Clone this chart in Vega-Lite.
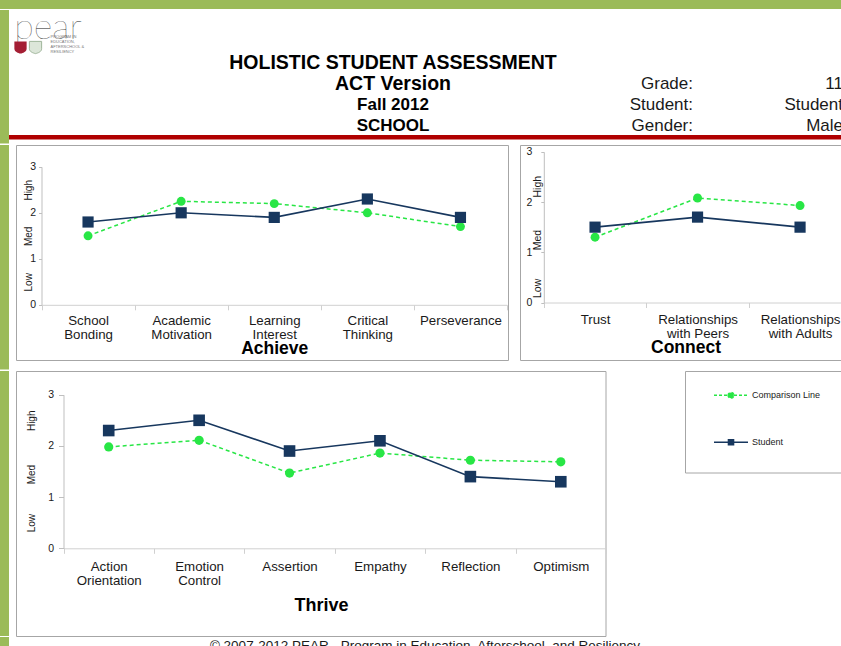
{
  "$schema": "https://vega.github.io/schema/vega-lite/v6.json",
  "padding": 0,
  "background": "white",
  "spacing": 0,
  "config": {"view": {"stroke": null}, "font": "Liberation Sans"},
  "datasets": {
    "achieve": [
      {"item": "School Bonding", "series": "Comparison Line", "score": 1.5},
      {"item": "Academic Motivation", "series": "Comparison Line", "score": 2.25},
      {"item": "Learning Interest", "series": "Comparison Line", "score": 2.2},
      {"item": "Critical Thinking", "series": "Comparison Line", "score": 2.0},
      {"item": "Perseverance", "series": "Comparison Line", "score": 1.7},
      {"item": "School Bonding", "series": "Student", "score": 1.8},
      {"item": "Academic Motivation", "series": "Student", "score": 2.0},
      {"item": "Learning Interest", "series": "Student", "score": 1.9},
      {"item": "Critical Thinking", "series": "Student", "score": 2.3},
      {"item": "Perseverance", "series": "Student", "score": 1.9}
    ],
    "connect": [
      {"item": "Trust", "series": "Comparison Line", "score": 1.3},
      {"item": "Relationships with Peers", "series": "Comparison Line", "score": 2.08},
      {"item": "Relationships with Adults", "series": "Comparison Line", "score": 1.93},
      {"item": "Trust", "series": "Student", "score": 1.5},
      {"item": "Relationships with Peers", "series": "Student", "score": 1.7},
      {"item": "Relationships with Adults", "series": "Student", "score": 1.5}
    ],
    "thrive": [
      {"item": "Action Orientation", "series": "Comparison Line", "score": 1.98},
      {"item": "Emotion Control", "series": "Comparison Line", "score": 2.11},
      {"item": "Assertion", "series": "Comparison Line", "score": 1.47},
      {"item": "Empathy", "series": "Comparison Line", "score": 1.86},
      {"item": "Reflection", "series": "Comparison Line", "score": 1.72},
      {"item": "Optimism", "series": "Comparison Line", "score": 1.69},
      {"item": "Action Orientation", "series": "Student", "score": 2.3},
      {"item": "Emotion Control", "series": "Student", "score": 2.5},
      {"item": "Assertion", "series": "Student", "score": 1.9},
      {"item": "Empathy", "series": "Student", "score": 2.1},
      {"item": "Reflection", "series": "Student", "score": 1.4},
      {"item": "Optimism", "series": "Student", "score": 1.3}
    ]
  },
  "vconcat": [
    {"width": 841, "height": 9, "data": {"values": []}, "mark": "point", "view": {"fill": "#9bbb59", "stroke": null}},
    {
      "spacing": 0, "bounds": "flush",
      "hconcat": [
        {"width": 9, "height": 125, "data": {"values": []}, "mark": "point", "view": {"fill": "#9bbb59", "stroke": null}},
        {
          "width": 78, "height": 57,
          "resolve": {"scale": {"y": "independent"}},
          "layer": [
            {
              "data": {"values": [{"logo": "pear"}]},
              "mark": {"type": "text", "font": "Lato", "fontWeight": 100, "fontSize": 36, "baseline": "alphabetic", "color": "#222222"},
              "encoding": {"text": {"field": "logo"}}
            },
            {
              "data": {"values": [
                {"slot": "text", "line": "1", "text": "PROGRAM IN"},
                {"slot": "text", "line": "2", "text": "EDUCATION,"},
                {"slot": "text", "line": "3", "text": "AFTERSCHOOL &"},
                {"slot": "text", "line": "4", "text": "RESILIENCY"}
              ]},
              "mark": {"type": "text", "fontSize": 4, "align": "left", "color": "#777777"},
              "encoding": {
                "x": {"field": "slot", "type": "nominal", "axis": null, "scale": {"type": "point", "domain": ["Harvard", "McLean", "text"], "range": [11.5, 41.5], "padding": 0}},
                "y": {"field": "line", "type": "ordinal", "axis": null, "scale": {"type": "point", "range": [27, 41.5], "padding": 0}},
                "text": {"field": "text"}
              }
            },
            {
              "data": {"values": [{"slot": "Harvard", "row": "s"}]},
              "mark": {"type": "point", "filled": true, "size": 150, "shape": "M-1,-1L1,-1L1,0.2C1,0.7,0.4,0.9,0,1C-0.4,0.9,-1,0.7,-1,0.2Z", "color": "#a41e34", "opacity": 1},
              "encoding": {
                "x": {"field": "slot", "type": "nominal", "axis": null},
                "y": {"field": "row", "type": "nominal", "axis": null, "scale": {"type": "point", "range": [37.5, 37.5], "padding": 0}}
              }
            },
            {
              "data": {"values": [{"slot": "McLean", "row": "s"}]},
              "mark": {"type": "point", "filled": true, "size": 150, "shape": "M-1,-1L1,-1L1,0.2C1,0.7,0.4,0.9,0,1C-0.4,0.9,-1,0.7,-1,0.2Z", "fill": "#dce6d9", "stroke": "#9fb59a", "strokeWidth": 1, "opacity": 1},
              "encoding": {
                "x": {"field": "slot", "type": "nominal", "axis": null},
                "y": {"field": "row", "type": "nominal", "axis": null, "scale": {"type": "point", "range": [37.5, 37.5], "padding": 0}}
              }
            }
          ]
        },
        {
          "width": 760, "height": 125,
          "data": {"values": [
            {"column": "block", "line": "0", "text": "HOLISTIC STUDENT ASSESSMENT"},
            {"column": "block", "line": "1", "text": "ACT Version"},
            {"column": "block", "line": "2", "text": "Fall 2012"},
            {"column": "block", "line": "3", "text": "SCHOOL"},
            {"column": "labels", "line": "1", "text": "Grade:"},
            {"column": "labels", "line": "2", "text": "Student:"},
            {"column": "labels", "line": "3", "text": "Gender:"},
            {"column": "values", "line": "1", "text": "11"},
            {"column": "values", "line": "2", "text": "Student"},
            {"column": "values", "line": "3", "text": "Male"}
          ]},
          "encoding": {
            "x": {"field": "column", "type": "nominal", "axis": null, "scale": {"type": "point", "domain": ["block", "gap", "labels", "values"], "range": [306, 756], "padding": 0, "round": false}},
            "y": {"field": "line", "type": "ordinal", "axis": null, "scale": {"type": "point", "domain": ["0", "1", "2", "3"], "range": [53, 116], "padding": 0, "round": false}},
            "text": {"field": "text"}
          },
          "layer": [
            {"transform": [{"filter": "datum.column == 'block' && (datum.line == '0' || datum.line == '1')"}], "mark": {"type": "text", "fontWeight": "bold", "fontSize": 19.5, "color": "#000000"}},
            {"transform": [{"filter": "datum.column == 'block' && (datum.line == '2' || datum.line == '3')"}], "mark": {"type": "text", "fontWeight": "bold", "fontSize": 17, "color": "#000000"}},
            {"transform": [{"filter": "datum.column != 'block'"}], "mark": {"type": "text", "fontSize": 17, "align": "right", "color": "#1a1a1a"}}
          ]
        }
      ]
    },
    {
      "spacing": 0, "bounds": "flush",
      "hconcat": [
        {"width": 9, "height": 8.5, "data": {"values": []}, "mark": "point", "view": {"fill": "#9bbb59", "stroke": null}},
        {"width": 832, "height": 4.5, "data": {"values": []}, "mark": "point", "view": {"fill": "#b00000", "stroke": null}}
      ]
    },
    {
      "spacing": 0, "bounds": "flush",
      "hconcat": [
        {"width": 9, "height": 224.5, "data": {"values": []}, "mark": "point", "view": {"fill": "#9bbb59", "stroke": null}},
        {"width": 6.5, "height": 1, "data": {"values": []}, "mark": "point"},
        {
          "width": 492, "height": 215,
          "view": {"fill": "white", "stroke": "#a6a6a6", "strokeWidth": 1},
          "data": {"name": "achieve"},
          "encoding": {
            "x": {
              "field": "item", "type": "nominal", "sort": null,
              "scale": {"type": "band", "range": [25.5, 491], "paddingInner": 0, "paddingOuter": 0, "round": false},
              "axis": {"orient": "bottom", "offset": -55.2, "title": "Achieve", "titleFontSize": 17.5, "titleFontWeight": "bold", "titleColor": "#000000", "titlePadding": -1,
                "tickBand": "extent", "tickSize": 5, "tickColor": "#d0d0d0", "domainColor": "#d0d0d0", "labelAngle": 0, "labelFontSize": 13.3, "labelColor": "#1a1a1a", "labelLineHeight": 13.5, "labelPadding": 4, "labelOverlap": false, "labelBound": false, "grid": false,
                "labelExpr": "indexof(datum.label, 'Relationships') == 0 ? ['Relationships', slice(datum.label, 14)] : split(datum.label, ' ')"}
            },
            "y": {
              "field": "score", "type": "quantitative",
              "scale": {"domain": [0, 3], "range": [159.8, 21.8], "nice": false, "zero": false},
              "axis": {"values": [0, 0.5, 1, 1.5, 2, 2.5, 3], "format": ".0f", "offset": -25.5, "title": null, "grid": false, "domainColor": "#bfbfbf", "tickColor": "#bfbfbf", "tickSize": 3, "labelColor": "#1a1a1a", "labelBound": false, "labelOverlap": false, "labelFlush": false,
                "labelExpr": "datum.value == 0.5 ? 'Low' : datum.value == 1.5 ? 'Med' : datum.value == 2.5 ? 'High' : datum.label",
                "labelAngle": {"expr": "datum.value % 1 != 0 ? -90 : 0"},
                "labelAlign": {"condition": {"test": "datum.value % 1 != 0", "value": "center"}, "value": "right"},
                "labelBaseline": {"condition": {"test": "datum.value % 1 != 0", "value": "bottom"}, "value": "middle"},
                "labelFontSize": {"condition": {"test": "datum.value % 1 != 0", "value": 10}, "value": 10.5},
                "labelPadding": {"condition": {"test": "datum.value % 1 != 0", "value": 5}, "value": 3},
                "tickOpacity": {"condition": {"test": "datum.value % 1 != 0", "value": 0}, "value": 1}}
            }
          },
          "layer": [
            {"transform": [{"filter": "datum.series == 'Comparison Line'"}], "mark": {"type": "line", "color": "#28e645", "strokeDash": [4, 3], "strokeWidth": 1.5}},
            {"transform": [{"filter": "datum.series == 'Comparison Line'"}], "mark": {"type": "circle", "color": "#28e645", "size": 80, "opacity": 1}},
            {"transform": [{"filter": "datum.series == 'Student'"}], "mark": {"type": "line", "color": "#17375e", "strokeWidth": 1.6}},
            {"transform": [{"filter": "datum.series == 'Student'"}], "mark": {"type": "square", "color": "#17375e", "size": 125, "opacity": 1}}
          ]
        },
        {"width": 12, "height": 1, "data": {"values": []}, "mark": "point"},
        {
          "width": 340, "height": 215,
          "view": {"fill": "white", "stroke": "#a6a6a6", "strokeWidth": 1},
          "data": {"name": "connect"},
          "encoding": {
            "x": {
              "field": "item", "type": "nominal", "sort": null,
              "scale": {"type": "band", "range": [23.8, 331.3], "paddingInner": 0, "paddingOuter": 0, "round": false},
              "axis": {"orient": "bottom", "offset": -57.5, "title": "Connect", "titleFontSize": 17.5, "titleFontWeight": "bold", "titleColor": "#000000", "titlePadding": -1, "titleX": 165.5,
                "tickBand": "extent", "tickSize": 5, "tickColor": "#d0d0d0", "domainColor": "#d0d0d0", "labelAngle": 0, "labelFontSize": 13.3, "labelColor": "#1a1a1a", "labelLineHeight": 13.5, "labelPadding": 5, "labelOverlap": false, "labelBound": false, "grid": false,
                "labelExpr": "indexof(datum.label, 'Relationships') == 0 ? ['Relationships', slice(datum.label, 14)] : split(datum.label, ' ')"}
            },
            "y": {
              "field": "score", "type": "quantitative",
              "scale": {"domain": [0, 3], "range": [157.5, 6.8], "nice": false, "zero": false},
              "axis": {"values": [0, 0.1, 1, 1.05, 2, 2.1, 3], "format": ".0f", "offset": -23.8, "title": null, "grid": false, "domainColor": "#bfbfbf", "tickColor": "#bfbfbf", "tickSize": 3, "labelFontSize": 10.5, "labelColor": "#1a1a1a", "labelBound": false, "labelOverlap": false, "labelFlush": false,
                "labelExpr": "datum.value == 0.1 ? 'Low' : datum.value == 1.05 ? 'Med' : datum.value == 2.1 ? 'High' : datum.label",
                "labelAngle": {"expr": "datum.value % 1 != 0 ? -90 : 0"},
                "labelAlign": {"condition": {"test": "datum.value % 1 != 0", "value": "left"}, "value": "right"},
                "labelBaseline": {"condition": {"test": "datum.value % 1 != 0", "value": "bottom"}, "value": "middle"},
                "labelPadding": {"condition": {"test": "datum.value % 1 != 0", "value": -2}, "value": 9},
                "tickOpacity": {"condition": {"test": "datum.value % 1 != 0", "value": 0}, "value": 1}}
            }
          },
          "layer": [
            {"transform": [{"filter": "datum.series == 'Comparison Line'"}], "mark": {"type": "line", "color": "#28e645", "strokeDash": [4, 3], "strokeWidth": 1.5}},
            {"transform": [{"filter": "datum.series == 'Comparison Line'"}], "mark": {"type": "circle", "color": "#28e645", "size": 80, "opacity": 1}},
            {"transform": [{"filter": "datum.series == 'Student'"}], "mark": {"type": "line", "color": "#17375e", "strokeWidth": 1.6}},
            {"transform": [{"filter": "datum.series == 'Student'"}], "mark": {"type": "square", "color": "#17375e", "size": 125, "opacity": 1}}
          ]
        }
      ]
    },
    {
      "spacing": 0, "bounds": "flush",
      "hconcat": [
        {"width": 9, "height": 265, "data": {"values": []}, "mark": "point", "view": {"fill": "#9bbb59", "stroke": null}},
        {"width": 6.5, "height": 1, "data": {"values": []}, "mark": "point"},
        {
          "width": 589.5, "height": 265,
          "view": {"fill": "white", "stroke": "#a6a6a6", "strokeWidth": 1},
          "data": {"name": "thrive"},
          "encoding": {
            "x": {
              "field": "item", "type": "nominal", "sort": null,
              "scale": {"type": "band", "range": [47.5, 590], "paddingInner": 0, "paddingOuter": 0, "round": false},
              "axis": {"orient": "bottom", "offset": -87.7, "title": "Thrive", "titleFontSize": 18, "titleFontWeight": "bold", "titleColor": "#000000", "titlePadding": 9, "titleX": 305,
                "tickBand": "extent", "tickSize": 5, "tickColor": "#d0d0d0", "domainColor": "#d0d0d0", "labelAngle": 0, "labelFontSize": 13.3, "labelColor": "#1a1a1a", "labelLineHeight": 14.6, "labelPadding": 6, "labelOverlap": false, "labelBound": false, "grid": false,
                "labelExpr": "split(datum.label, ' ')"}
            },
            "y": {
              "field": "score", "type": "quantitative",
              "scale": {"domain": [0, 3], "range": [177.3, 23.7], "nice": false, "zero": false},
              "axis": {"values": [0, 0.5, 1, 1.45, 2, 2.5, 3], "format": ".0f", "offset": -47.5, "title": null, "grid": false, "domainColor": "#bfbfbf", "tickColor": "#bfbfbf", "tickSize": 5, "labelColor": "#1a1a1a", "labelBound": false, "labelOverlap": false, "labelFlush": false,
                "labelExpr": "datum.value == 0.5 ? 'Low' : datum.value == 1.45 ? 'Med' : datum.value == 2.5 ? 'High' : datum.label",
                "labelAngle": {"expr": "datum.value % 1 != 0 ? -90 : 0"},
                "labelAlign": {"condition": {"test": "datum.value % 1 != 0", "value": "center"}, "value": "right"},
                "labelBaseline": {"condition": {"test": "datum.value % 1 != 0", "value": "bottom"}, "value": "middle"},
                "labelFontSize": {"condition": {"test": "datum.value % 1 != 0", "value": 10}, "value": 10.5},
                "labelPadding": {"condition": {"test": "datum.value % 1 != 0", "value": 22}, "value": 5},
                "tickOpacity": {"condition": {"test": "datum.value % 1 != 0", "value": 0}, "value": 1}}
            }
          },
          "layer": [
            {"transform": [{"filter": "datum.series == 'Comparison Line'"}], "mark": {"type": "line", "color": "#28e645", "strokeDash": [4, 3], "strokeWidth": 1.5}},
            {"transform": [{"filter": "datum.series == 'Comparison Line'"}], "mark": {"type": "circle", "color": "#28e645", "size": 85, "opacity": 1}},
            {"transform": [{"filter": "datum.series == 'Student'"}], "mark": {"type": "line", "color": "#17375e", "strokeWidth": 1.6}},
            {"transform": [{"filter": "datum.series == 'Student'"}], "mark": {"type": "square", "color": "#17375e", "size": 135, "opacity": 1}}
          ]
        },
        {"width": 78.5, "height": 1, "data": {"values": []}, "mark": "point"},
        {
          "width": 176.5, "height": 101.5,
          "view": {"fill": "white", "stroke": "#a6a6a6", "strokeWidth": 1},
          "data": {"values": [{"series": "Comparison Line"}, {"series": "Student"}]},
          "mark": {"type": "point", "opacity": 0, "filled": true},
          "encoding": {
            "fill": {
              "field": "series", "type": "nominal",
              "scale": {"domain": ["Comparison Line", "Student"], "range": ["#28e645", "#17375e"]},
              "legend": {
                "orient": "none", "legendX": 713, "legendY": 377.3, "title": null,
                "symbolSize": 1156, "symbolOpacity": 1, "symbolStrokeWidth": 1.5, "rowPadding": 23, "labelFontSize": 9, "labelColor": "#222222", "labelOffset": 3
              }
            },
            "stroke": {
              "field": "series", "type": "nominal",
              "scale": {"domain": ["Comparison Line", "Student"], "range": ["#28e645", "#17375e"]},
              "legend": {
                "orient": "none", "legendX": 713, "legendY": 377.3, "title": null,
                "symbolSize": 1156, "symbolOpacity": 1, "symbolStrokeWidth": 1.5, "rowPadding": 23, "labelFontSize": 9, "labelColor": "#222222", "labelOffset": 3
              }
            },
            "shape": {
              "field": "series", "type": "nominal",
              "scale": {"domain": ["Comparison Line", "Student"], "range": ["M-1,0L1,0M-0.17,0A0.17,0.17,0,1,1,0.17,0A0.17,0.17,0,1,1,-0.17,0Z", "M-1,0L1,0M-0.15,-0.15L0.15,-0.15L0.15,0.15L-0.15,0.15Z"]},
              "legend": {
                "orient": "none", "legendX": 713, "legendY": 377.3, "title": null,
                "symbolSize": 1156, "symbolOpacity": 1, "symbolStrokeWidth": 1.5, "rowPadding": 23, "labelFontSize": 9, "labelColor": "#222222", "labelOffset": 3
              }
            },
            "strokeDash": {
              "field": "series", "type": "nominal",
              "scale": {"domain": ["Comparison Line", "Student"], "range": [[3, 2], [1, 0]]},
              "legend": {
                "orient": "none", "legendX": 713, "legendY": 377.3, "title": null,
                "symbolSize": 1156, "symbolOpacity": 1, "symbolStrokeWidth": 1.5, "rowPadding": 23, "labelFontSize": 9, "labelColor": "#222222", "labelOffset": 3
              }
            }
          }
        }
      ]
    },
    {
      "spacing": 0, "bounds": "flush",
      "hconcat": [
        {"width": 9, "height": 18, "data": {"values": []}, "mark": "point", "view": {"fill": "#9bbb59", "stroke": null}},
        {
          "width": 832, "height": 18,
          "data": {"values": [{"note": "© 2007-2012 PEAR - Program in Education, Afterschool, and Resiliency"}]},
          "mark": {"type": "text", "fontSize": 13.5, "color": "#1a1a1a"},
          "encoding": {"text": {"field": "note"}}
        }
      ]
    }
  ]
}
